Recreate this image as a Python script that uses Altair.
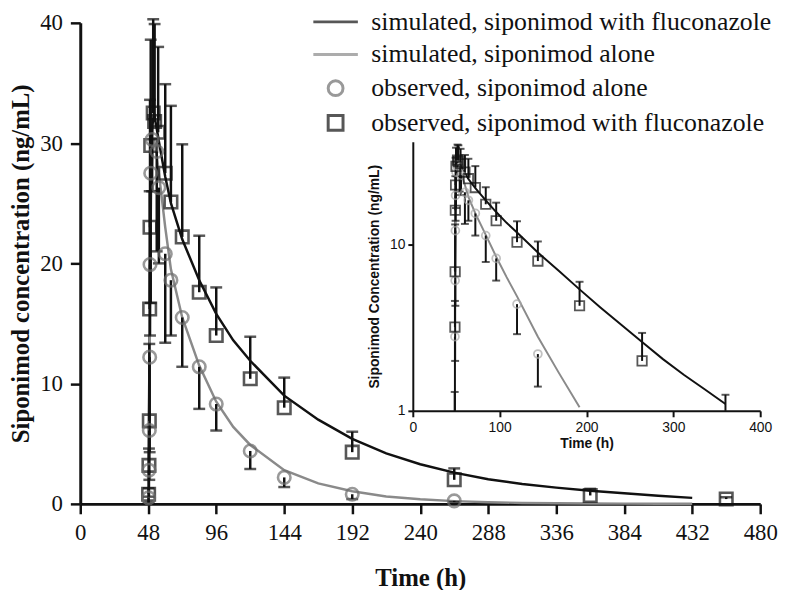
import altair as alt
import pandas as pd

# ---------------- data ----------------
LABELS = [
    "simulated, siponimod with fluconazole",
    "simulated, siponimod alone",
    "observed, siponimod alone",
    "observed, siponimod with fluconazole",
]

# simulated profiles (h, ng/mL)
sim_t = [48, 48.5, 49, 49.5, 50, 51, 52, 54, 56, 60, 64, 72, 84, 96, 108, 120, 144,
         168, 192, 216, 240, 264, 288, 312, 336, 360, 384, 408, 432]
sim_with = [0, 7, 15, 23, 28, 31.5, 32.5, 31.2, 29.8, 27.2, 25.0, 22.0, 18.6, 15.8, 13.6,
            11.9, 9.0, 7.0, 5.4, 4.2, 3.3, 2.6, 2.05, 1.65, 1.35, 1.1, 0.88, 0.68, 0.5]
sim_alone = [0, 6, 13, 21, 26, 29.5, 30.3, 29.0, 27.0, 23.0, 19.5, 15.5, 11.5, 8.5, 6.4,
             4.9, 2.8, 1.7, 1.05, 0.62, 0.38, 0.23, 0.14, 0.08, 0.05, 0.03, 0.02, 0.01, 0.01]

# observed, siponimod with fluconazole (mean, upper SD)
sq_t = [48.25, 48.5, 48.75, 49, 49.25, 49.75, 51.5, 52.5, 55, 60, 64, 72, 84, 96, 120,
        144, 192, 264, 360, 456]
sq_v = [0.8, 3.2, 6.9, 16.2, 23.0, 29.8, 32.5, 31.8, 30.9, 27.5, 25.1, 22.2, 17.6, 14.0,
        10.4, 8.0, 4.3, 2.0, 0.7, 0.4]
sq_hi = [1.3, 4.6, 13.3, 26.0, 33.6, 38.6, 40.3, 39.9, 38.0, 34.9, 33.1, 29.9, 22.3, 18.0,
         13.9, 10.5, 6.0, 2.95, 1.25, 0.55]

# observed, siponimod alone (mean, lower SD)
ci_t = [48.25, 48.5, 48.75, 49, 49.25, 49.75, 50.75, 54, 55.5, 60, 64, 72, 84, 96, 120,
        144, 192, 264]
ci_v = [0.5, 2.8, 6.1, 12.2, 19.9, 27.5, 30.3, 29.3, 26.3, 20.8, 18.6, 15.5, 11.4, 8.3,
        4.4, 2.2, 0.8, 0.25]
ci_lo = [0.1, 0.6, 2.0, 4.3, 14.0, 16.7, 26.0, 21.0, 20.0, 13.4, 14.0, 11.4, 7.9, 6.1,
         2.9, 1.4, 0.4, 0.15]

x_ticks = [0, 48, 96, 144, 192, 240, 288, 336, 384, 432, 480]
y_ticks = [0, 10, 20, 30, 40]
inset_x_ticks = [0, 100, 200, 300, 400]
inset_y_ticks = [1, 10]

# ---------------- tables ----------------
n = len(sim_t)
sim = pd.DataFrame({
    "t": sim_t + sim_t,
    "c": sim_with + sim_alone,
    "series": [LABELS[0]] * n + [LABELS[1]] * n,
})
obs = pd.DataFrame({
    "t": sq_t + ci_t,
    "c": sq_v + ci_v,
    "series": [LABELS[3]] * len(sq_t) + [LABELS[2]] * len(ci_t),
})
err = pd.DataFrame({
    "t": sq_t + ci_t,
    "lo": sq_v + ci_lo,
    "hi": sq_hi + ci_v,
    "cap": sq_hi + ci_lo,
})

SERIF = "Liberation Serif"
SANS = "Liberation Sans"
BLACK = "#111111"
GRAY = "#8a8a8a"

LINE_PATH = "M-3,0L3,0"
legend_kw = dict(
    orient="none", legendX=245, legendY=-14, title=None,
    labelFont=SERIF, labelFontSize=26, labelColor=BLACK, labelLimit=700,
    symbolSize=225, symbolStrokeWidth=3, labelOffset=23, rowPadding=7, padding=0,
)

# ---------------- main plot ----------------
X_AXIS = alt.Axis(values=x_ticks, title="Time (h)", labelFont=SERIF, labelFontSize=23,
                  labelColor=BLACK, titleFont=SERIF, titleFontSize=25, titleFontWeight="bold",
                  titleColor=BLACK, domainWidth=3, domainColor=BLACK, tickWidth=2.5,
                  tickColor=BLACK, tickSize=10, labelPadding=8, titlePadding=21,
                  grid=False, labelFlush=False)
Y_AXIS = alt.Axis(values=y_ticks, title="Siponimod concentration (ng/mL)", labelFont=SERIF,
                  labelFontSize=23, labelColor=BLACK, titleFont=SERIF, titleFontSize=25,
                  titleFontWeight="bold", titleColor=BLACK, domainWidth=3, domainColor=BLACK,
                  tickWidth=2.5, tickColor=BLACK, tickSize=10, labelPadding=8,
                  titlePadding=6, grid=False)
X_SCALE = alt.Scale(domain=[0, 480], nice=False)
Y_SCALE = alt.Scale(domain=[0, 40], nice=False)
X = alt.X("t:Q", scale=X_SCALE, axis=X_AXIS)
Y = alt.Y("c:Q", scale=Y_SCALE, axis=Y_AXIS)

main_lines = alt.Chart(sim).mark_line(strokeWidth=2.5).encode(
    x=X, y=Y,
    color=alt.Color("series:N", scale=alt.Scale(domain=LABELS[:2], range=[BLACK, GRAY]), legend=None),
)
main_bars = alt.Chart(err).mark_rule(strokeWidth=2.5, color=BLACK).encode(
    x=X, y=alt.Y("lo:Q", scale=Y_SCALE, axis=Y_AXIS), y2="hi:Q")
main_caps = alt.Chart(err).mark_tick(orient="horizontal", size=12, thickness=2.5, color=BLACK).encode(
    x=X, y=alt.Y("cap:Q", scale=Y_SCALE, axis=Y_AXIS))
main_points = alt.Chart(obs).mark_point(filled=False, strokeWidth=2.6, size=160).encode(
    x=X, y=Y,
    shape=alt.Shape("series:N", scale=alt.Scale(domain=LABELS, range=[LINE_PATH, LINE_PATH, "circle", "square"]),
                    legend=alt.Legend(**legend_kw)),
    stroke=alt.Stroke("series:N", scale=alt.Scale(domain=LABELS, range=[BLACK, GRAY, "#6e6e6e", BLACK]),
                      legend=alt.Legend(**legend_kw)),
)
main = alt.layer(main_lines, main_bars, main_caps, main_points)

# ---------------- inset (log scale) ----------------
IX_SCALE = alt.Scale(domain=[0, 400], range=[336, 687], nice=False)
IY_SCALE = alt.Scale(type="log", domain=[1, 42], range=[392, 120], nice=False, clamp=True)
IX_AXIS = alt.Axis(orient="bottom", offset=-94, values=inset_x_ticks, title="Time (h)",
                   labelFont=SANS, labelFontSize=14, labelColor=BLACK, titleFont=SANS,
                   titleFontSize=14, titleFontWeight="bold", titleColor=BLACK, domainWidth=2,
                   domainColor=BLACK, tickWidth=2, tickColor=BLACK, tickSize=6, labelPadding=4,
                   titlePadding=2, grid=False, labelFlush=False)
IY_AXIS = alt.Axis(orient="left", offset=-336, values=inset_y_ticks, title="Siponimod Concentration (ng/mL)",
                   labelFont=SANS, labelFontSize=14, labelColor=BLACK, titleFont=SANS, titleFontSize=14,
                   titleFontWeight="bold", titleColor=BLACK, domainWidth=2, domainColor=BLACK, tickWidth=2,
                   tickColor=BLACK, tickSize=5, labelPadding=3, titlePadding=8, grid=False)
IX = alt.X("t:Q", scale=IX_SCALE, axis=IX_AXIS)
IY = alt.Y("c:Q", scale=IY_SCALE, axis=IY_AXIS)

in_lines = alt.Chart(sim).transform_filter(alt.datum.c >= 1).mark_line(strokeWidth=2).encode(
    x=IX, y=IY,
    color=alt.Color("series:N", scale=alt.Scale(domain=LABELS[:2], range=[BLACK, "#b0b0b0"]), legend=None),
)
in_bars = alt.Chart(err).mark_rule(strokeWidth=2, color=BLACK).encode(
    x=IX, y=alt.Y("lo:Q", scale=IY_SCALE, axis=IY_AXIS), y2="hi:Q")
in_caps = alt.Chart(err).transform_filter(alt.datum.cap >= 1).mark_tick(
    orient="horizontal", size=8, thickness=2, color=BLACK).encode(
    x=IX, y=alt.Y("cap:Q", scale=IY_SCALE, axis=IY_AXIS))
in_sq = alt.Chart(obs).transform_filter(
    (alt.datum.c >= 1) & (alt.datum.series == LABELS[3])).mark_point(
    shape="square", filled=False, strokeWidth=1.8, size=90, color=BLACK).encode(x=IX, y=IY)
in_ci = alt.Chart(obs).transform_filter(
    (alt.datum.c >= 1) & (alt.datum.series == LABELS[2])).mark_point(
    shape="circle", filled=False, strokeWidth=1.8, size=64, color="#a8a8a8").encode(x=IX, y=IY)
inset = alt.layer(in_lines, in_bars, in_caps, in_ci, in_sq)

chart = alt.layer(main, inset).resolve_scale(x="independent", y="independent").properties(
    width=687, height=486, autosize="none",
    padding={"left": 73, "top": 12, "right": 20, "bottom": 84},
).configure_view(stroke=None).configure_axis(grid=False).configure_legend(
    labelFont=SERIF, labelFontSize=26, labelColor=BLACK, labelLimit=700,
)

chart.save("out.html", embed_options={"renderer": "svg", "actions": False})
